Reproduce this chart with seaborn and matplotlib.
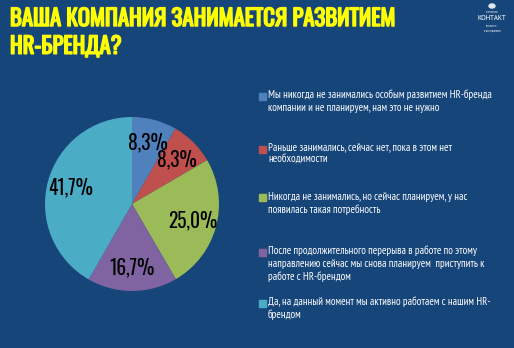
import matplotlib
matplotlib.use("Agg")
import matplotlib.pyplot as plt
import matplotlib.patheffects as pe
import seaborn as sns

sns.set_theme(style="white")

categories = [
    "Мы никогда не занимались особым развитием HR-бренда\nкомпании и не планируем, нам это не нужно",
    "Раньше занимались, сейчас нет, пока в этом нет\nнеобходимости",
    "Никогда не занимались, но сейчас планируем, у нас\nпоявилась такая потребность",
    "После продолжительного перерыва в работе по этому\nнаправлению сейчас мы снова планируем  приступить к\nработе с HR-брендом",
    "Да, на данный момент мы активно работаем с нашим HR-\nбрендом",
]
values = [8.3, 8.3, 25.0, 16.7, 41.7]
value_labels = ["8,3%", "8,3%", "25,0%", "16,7%", "41,7%"]
colors = ["#4F81BD", "#C0504D", "#9BBB59", "#8064A2", "#4BACC6"]
title = "ВАША КОМПАНИЯ ЗАНИМАЕТСЯ РАЗВИТИЕМ\nHR-БРЕНДА?"

bg = "#16457A"
fig = plt.figure(figsize=(5.14, 3.48), dpi=100, facecolor=bg)

fig.text(10/514, 1 - 8/348, title, color="#FFFF00", fontsize=16.3, fontweight="bold",
         family=["Oswald", "DejaVu Sans"], va="top", ha="left", linespacing=1.32,
         path_effects=[pe.withStroke(linewidth=1.1, foreground="#FFFF00")])

# pie axes: center (132,204), radius 87
r = 87
ax = fig.add_axes([(132 - r)/514, 1 - (204 + r)/348, 2*r/514, 2*r/348])
ax.set_facecolor(bg)
wedges, texts = ax.pie(values, colors=colors, startangle=90, counterclock=False,
                       labels=value_labels, labeldistance=0.73,
                       wedgeprops=dict(linewidth=0))
for t in texts:
    t.set_ha("center"); t.set_va("center")
    t.set_fontsize(14); t.set_family(["Oswald", "DejaVu Sans"]); t.set_color("black")
ax.set_xlim(-1, 1); ax.set_ylim(-1, 1)
ax.set_aspect("equal")
ax.axis("off")

# legend
ys = [96, 149, 198, 252, 303]
for c, lab, y in zip(colors, categories, ys):
    fig.patches.append(plt.Rectangle((259/514, 1 - (y + 3.5)/348), 7/514, 7/348,
                                     transform=fig.transFigure, color=c, figure=fig))
    fig.text(268/514, 1 - (y - 6.5)/348, lab, color="white", fontsize=7.8,
             family=["PT Sans Narrow", "DejaVu Sans"], va="top", ha="left", linespacing=1.3)

# logo
fig.patches.append(plt.Circle((492/514, 1 - 6/348), 3/514, transform=fig.transFigure,
                              color="#dfe6ef", figure=fig))
fig.text(492/514, 1 - 12/348, "агентство", color="white", fontsize=2.6, ha="center", va="center",
         family=["PT Sans Narrow", "DejaVu Sans"])
fig.text(492/514, 1 - 19/348, "КОНТАКТ", color="white", fontsize=6, ha="center", va="center",
         family=["PT Sans Narrow", "DejaVu Sans"])
fig.text(492/514, 1 - 28/348, "консалтинг\nи исследования", color="white", fontsize=2.2,
         ha="center", va="center", linespacing=1.0, family=["PT Sans Narrow", "DejaVu Sans"])

fig.savefig("out.png", dpi=100, facecolor=bg)
